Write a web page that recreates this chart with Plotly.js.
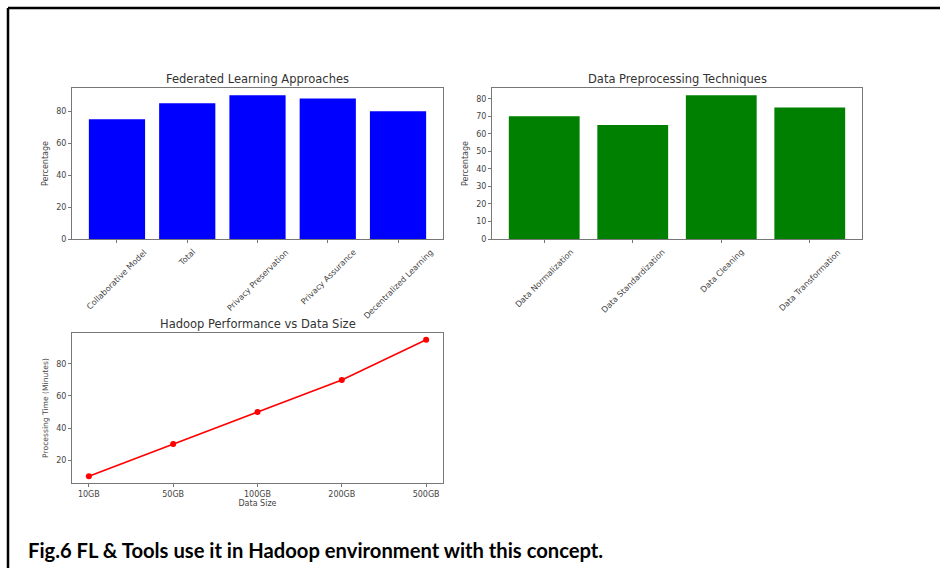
<!DOCTYPE html>
<html>
<head>
<meta charset="utf-8">
<script src="https://cdn.plot.ly/plotly-3.0.1.min.js"></script>
<style>html,body{margin:0;padding:0;background:#fff;}#chart{width:940px;height:568px;}</style>
</head>
<body>
<div id="chart"></div>
<script>
// ---- data ----
const flCategories = ["Collaborative Model", "Total", "Privacy Preservation", "Privacy Assurance", "Decentralized Learning"];
const flValues = [75, 85, 90, 88, 80];
const dpCategories = ["Data Normalization", "Data Standardization", "Data Cleaning", "Data Transformation"];
const dpValues = [70, 65, 82, 75];
const dataSizes = ["10GB", "50GB", "100GB", "200GB", "500GB"];
const processingTimes = [10, 30, 50, 70, 95];

const W = 940, H = 568;
const px = v => v / W;
const py = v => 1 - v / H;

const tickFont = {family: "DejaVu Sans", size: 8, color: "#444"};
const titleFont = {family: "DejaVu Sans", size: 11.5, color: "#333"};
const labFont = {family: "DejaVu Sans", size: 8, color: "#444"};
const rotFont = {family: "DejaVu Sans", size: 8.1, color: "#444"};

const traces = [
  {type: "bar", x: flCategories, y: flValues, xaxis: "x", yaxis: "y",
   marker: {color: "#0000ff", line: {width: 0}}, hoverinfo: "x+y"},
  {type: "bar", x: dpCategories, y: dpValues, xaxis: "x2", yaxis: "y2",
   marker: {color: "#008000", line: {width: 0}}, hoverinfo: "x+y"},
  {type: "scatter", mode: "lines+markers", x: dataSizes, y: processingTimes, xaxis: "x3", yaxis: "y3",
   line: {color: "#ff0000", width: 1.6}, marker: {color: "#ff0000", size: 6}}
];

const axBase = {showline: true, mirror: true, linecolor: "#777", linewidth: 1, ticks: "outside",
  ticklen: 3, tickcolor: "#777", showgrid: false, zeroline: false, tickfont: tickFont, fixedrange: true};

const annotations = [];
flCategories.forEach(c => annotations.push({x: c, xref: "x", y: 0, yref: "y domain", yshift: -5,
  text: c, textangle: -45, showarrow: false, xanchor: "center", yanchor: "top", font: rotFont}));
dpCategories.forEach(c => annotations.push({x: c, xref: "x2", y: 0, yref: "y2 domain", yshift: -5,
  text: c, textangle: -45, showarrow: false, xanchor: "center", yanchor: "top", font: rotFont}));
annotations.push({x: px(26), xref: "paper", y: py(550), yref: "paper", xanchor: "left", yanchor: "middle",
  text: "<b>Fig.6 FL &amp; Tools use it in Hadoop environment with this concept.</b>", showarrow: false,
  font: {family: "Lato", size: 20.2, color: "#000"}});

const layout = {
  width: W, height: H, margin: {l: 0, r: 0, t: 0, b: 0},
  paper_bgcolor: "#fff", plot_bgcolor: "#fff", showlegend: false, bargap: 0.2,
  xaxis: Object.assign({}, axBase, {domain: [px(72), px(443)], anchor: "y", range: [-0.64, 4.64], showticklabels: false}),
  yaxis: Object.assign({}, axBase, {domain: [py(239), py(88)], anchor: "x", range: [0, 94.5], tickvals: [0, 20, 40, 60, 80],
    title: {text: "Percentage", font: labFont, standoff: 6}}),
  xaxis2: Object.assign({}, axBase, {domain: [px(492), px(862)], anchor: "y2", range: [-0.59, 3.59], showticklabels: false}),
  yaxis2: Object.assign({}, axBase, {domain: [py(239), py(88)], anchor: "x2", range: [0, 86.1], tickvals: [0, 10, 20, 30, 40, 50, 60, 70, 80],
    title: {text: "Percentage", font: labFont, standoff: 6}}),
  xaxis3: Object.assign({}, axBase, {domain: [px(72), px(443)], anchor: "y3", range: [-0.2, 4.2],
    title: {text: "Data Size", font: labFont, standoff: 2}}),
  yaxis3: Object.assign({}, axBase, {domain: [py(483), py(333)], anchor: "x3", range: [5.75, 99.25], tickvals: [20, 40, 60, 80],
    title: {text: "Processing Time (Minutes)", font: {family: "DejaVu Sans", size: 7.6, color: "#444"}, standoff: 6}}),
  annotations: annotations.concat([
    {text: "Federated Learning Approaches", x: 0.5, xref: "x domain", y: 1, yref: "y domain", yshift: 0,
     xanchor: "center", yanchor: "bottom", showarrow: false, font: titleFont},
    {text: "Data Preprocessing Techniques", x: 0.5, xref: "x2 domain", y: 1, yref: "y2 domain", yshift: 0,
     xanchor: "center", yanchor: "bottom", showarrow: false, font: titleFont},
    {text: "Hadoop Performance vs Data Size", x: 0.5, xref: "x3 domain", y: 1, yref: "y3 domain", yshift: 0,
     xanchor: "center", yanchor: "bottom", showarrow: false, font: titleFont}
  ]),
  shapes: [
    {type: "line", xref: "paper", yref: "paper", x0: px(8), x1: 1, y0: py(8), y1: py(8), line: {color: "#000", width: 2.5}},
    {type: "line", xref: "paper", yref: "paper", x0: px(8), x1: px(8), y0: py(8), y1: 0, line: {color: "#000", width: 2.5}}
  ]
};

Plotly.newPlot("chart", traces, layout, {displayModeBar: false, staticPlot: true});
</script>
</body>
</html>
